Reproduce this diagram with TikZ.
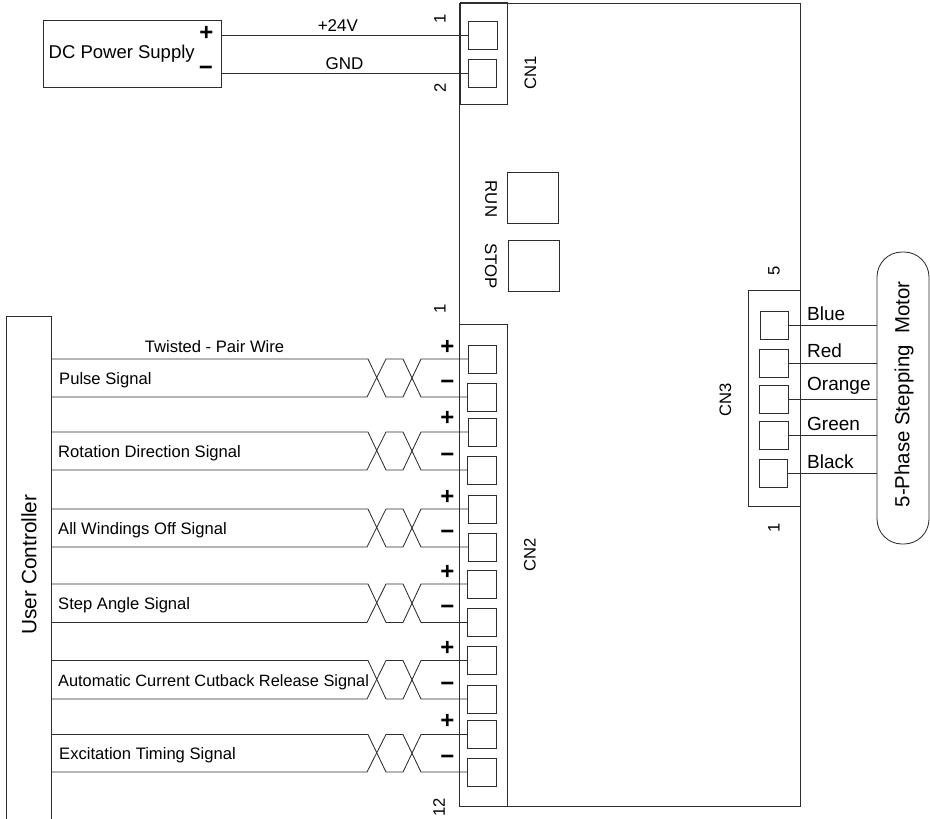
\documentclass[tikz,border=0pt]{standalone}
\usepackage{fontspec}
\setmainfont{Liberation Sans}
\usepackage{xcolor}
\definecolor{wirecol}{RGB}{45,45,45}
\tikzset{
    box/.style={draw=wirecol, line width=0.85pt, inner sep=0pt, outer sep=0pt},
    pin/.style={box, minimum width=28.5pt, minimum height=28pt},
    wire/.style={draw=wirecol, line width=0.85pt},
    sig/.style={inner sep=0pt, anchor=west, yshift=-1pt, font=\fontsize{16.6}{18}\selectfont},
    wirename/.style={inner sep=0pt, font=\fontsize{17}{19}\selectfont},
    colname/.style={inner sep=0pt, anchor=west, font=\fontsize{19}{21}\selectfont},
    upname/.style={inner sep=0pt, rotate=90, font=\fontsize{16.6}{18}\selectfont},
    downname/.style={inner sep=0pt, rotate=-90, font=\fontsize{16.8}{18}\selectfont},
    polar/.style={inner sep=0pt, font=\fontsize{24}{26}\selectfont\bfseries}
}

\begin{document}
\begin{tikzpicture}[x=1pt,y=-1pt]
    \clip (0,0) rectangle (930,819);

    %Driver board
    \node[box, minimum width=340.5pt, minimum height=803pt] (board) at (630,404.5) {};
    \node[box, minimum width=51pt, minimum height=51pt] (run) at (532.5,197.5) {};
    \node[box, minimum width=51pt, minimum height=51pt] (stop) at (533.5,266) {};
    \node[downname] (runtxt) at (491,199) {RUN};
    \node[downname] (stoptxt) at (491,266) {STOP};

    % ------------------

    %CN1: power input
    \node[box, minimum width=47pt, minimum height=101.5pt] (cn1) at (483.5,53.5) {};
    \node[pin] (pa) at (483,35) {};
    \node[pin] (pb) at (482.5,73) {};
    \node[upname] (cn1txt) at (530.5,73) {CN1};
    \node[upname] (cn1a) at (440,19) {1};
    \node[upname] (cn1b) at (440,87.5) {2};

    \node[box, minimum width=178pt, minimum height=67pt] (dc) at (132,54) {};
    \node[inner sep=0pt, anchor=west, font=\fontsize{18.5}{20}\selectfont] (dctxt) at (48.5,54) {DC Power Supply};
    \node[polar] (dcplus) at (206.5,33) {+};
    \node[polar] (dcminus) at (206,71) {−};

    \draw[wire] (dc.east |- pa.west) -- node[wirename, above=3pt, xshift=-7pt] (v24) {+24V} (pa.west);
    \draw[wire] (dc.east |- pb.west) -- node[wirename, above=3pt] (gnd) {GND} (pb.west);

    % ------------------

    %CN2: signal input
    \node[box, minimum width=48.5pt, minimum height=482pt] (cn2) at (483.5,565) {};
    \node[upname] (cn2txt) at (530,555) {CN2};
    \node[upname] (cn2a) at (440,309) {1};
    \node[upname] (cn2b) at (439,807) {12};

    \node[pin] (p1) at (482.5,359) {};
    \node[pin] (p2) at (482,397) {};
    \node[pin] (p3) at (482.5,432) {};
    \node[pin] (p4) at (482,470) {};
    \node[pin] (p5) at (482.5,509) {};
    \node[pin] (p6) at (482.5,547) {};
    \node[pin] (p7) at (482,584) {};
    \node[pin] (p8) at (482,622.5) {};
    \node[pin] (p9) at (482,660.5) {};
    \node[pin] (p10) at (482,699) {};
    \node[pin] (p11) at (482,734.5) {};
    \node[pin] (p12) at (482,772) {};

    \node[polar] (p1s) at (447.5,347) {+};
    \node[polar] (p2s) at (447.5,385) {−};
    \node[polar] (p3s) at (447.5,418.5) {+};
    \node[polar] (p4s) at (447.5,457.5) {−};
    \node[polar] (p5s) at (447.5,497) {+};
    \node[polar] (p6s) at (447.5,535) {−};
    \node[polar] (p7s) at (447.5,572) {+};
    \node[polar] (p8s) at (447.5,610) {−};
    \node[polar] (p9s) at (447.5,648.5) {+};
    \node[polar] (p10s) at (447.5,686.5) {−};
    \node[polar] (p11s) at (447.5,721.5) {+};
    \node[polar] (p12s) at (447.5,759.5) {−};

    % ------------------

    %User side
    \node[box, minimum width=45pt, minimum height=520pt] (uc) at (28.5,576) {};
    \node[inner sep=0pt, rotate=90, font=\fontsize{20.8}{22}\selectfont] (uctxt) at (29,564.5) {User Controller};

    \node[inner sep=0pt, font=\fontsize{16.6}{18}\selectfont] (twist) at (214.5,346.5) {Twisted - Pair Wire};
    \node[sig] (s1) at (59,379) {Pulse Signal};
    \node[sig] (s2) at (58,452) {Rotation Direction Signal};
    \node[sig] (s3) at (58,529) {All Windings Off Signal};
    \node[sig] (s4) at (58,604) {Step Angle Signal};
    \node[sig, font=\fontsize{16.35}{18}\selectfont] (s5) at (58,681) {Automatic Current Cutback Release Signal};
    \node[sig] (s6) at (59,754) {Excitation Timing Signal};

    % twisted pairs
    \draw[wire] (uc.east |- p1.west) -- (368,0 |- p1.west) -- (386,0 |- p2.west) -- (403,0 |- p2.west) -- (421,0 |- p1.west) -- (p1.west);
    \draw[wire] (uc.east |- p2.west) -- (367,0 |- p2.west) -- (386,0 |- p1.west) -- (403,0 |- p1.west) -- (421,0 |- p2.west) -- (p2.west);
    \draw[wire] (uc.east |- p3.west) -- (368,0 |- p3.west) -- (386,0 |- p4.west) -- (403,0 |- p4.west) -- (421,0 |- p3.west) -- (p3.west);
    \draw[wire] (uc.east |- p4.west) -- (367,0 |- p4.west) -- (386,0 |- p3.west) -- (403,0 |- p3.west) -- (421,0 |- p4.west) -- (p4.west);
    \draw[wire] (uc.east |- p5.west) -- (368,0 |- p5.west) -- (386,0 |- p6.west) -- (403,0 |- p6.west) -- (421,0 |- p5.west) -- (p5.west);
    \draw[wire] (uc.east |- p6.west) -- (367,0 |- p6.west) -- (386,0 |- p5.west) -- (403,0 |- p5.west) -- (421,0 |- p6.west) -- (p6.west);
    \draw[wire] (uc.east |- p7.west) -- (368,0 |- p7.west) -- (386,0 |- p8.west) -- (403,0 |- p8.west) -- (421,0 |- p7.west) -- (p7.west);
    \draw[wire] (uc.east |- p8.west) -- (367,0 |- p8.west) -- (386,0 |- p7.west) -- (403,0 |- p7.west) -- (421,0 |- p8.west) -- (p8.west);
    \draw[wire] (uc.east |- p9.west) -- (368,0 |- p9.west) -- (386,0 |- p10.west) -- (403,0 |- p10.west) -- (421,0 |- p9.west) -- (p9.west);
    \draw[wire] (uc.east |- p10.west) -- (367,0 |- p10.west) -- (386,0 |- p9.west) -- (403,0 |- p9.west) -- (421,0 |- p10.west) -- (p10.west);
    \draw[wire] (uc.east |- p11.west) -- (368,0 |- p11.west) -- (386,0 |- p12.west) -- (403,0 |- p12.west) -- (421,0 |- p11.west) -- (p11.west);
    \draw[wire] (uc.east |- p12.west) -- (367,0 |- p12.west) -- (386,0 |- p11.west) -- (403,0 |- p11.west) -- (421,0 |- p12.west) -- (p12.west);

    % ------------------

    %CN3: motor output
    \node[box, minimum width=51.5pt, minimum height=216.5pt] (cn3) at (774.5,398.5) {};
    \node[upname] (cn3txt) at (725.5,400) {CN3};
    \node[upname] (cn3a) at (774,271) {5};
    \node[upname] (cn3b) at (774,528) {1};

    \node[pin] (q1) at (774.5,325.5) {};
    \node[pin] (q2) at (774,363) {};
    \node[pin] (q3) at (774,399.5) {};
    \node[pin] (q4) at (774,435.5) {};
    \node[pin] (q5) at (773.5,473.5) {};

    \node[box, rounded corners=25pt, minimum width=52pt, minimum height=292pt] (motor) at (903,398) {};
    \node[inner sep=0pt, rotate=90, font=\fontsize{20.4}{22}\selectfont] (motortxt) at (904,394.5) {5-Phase Stepping\ \ Motor};

    \node[colname] (c1) at (807,314) {Blue};
    \node[colname] (c2) at (807,351) {Red};
    \node[colname] (c3) at (807,386) {Orange};
    \node[colname] (c4) at (807,424) {Green};
    \node[colname] (c5) at (807,461.5) {Black};

    \draw[wire] (q1.east) -- (motor.west |- q1.east);
    \draw[wire] (q2.east) -- (motor.west |- q2.east);
    \draw[wire] (q3.east) -- (motor.west |- q3.east);
    \draw[wire] (q4.east) -- (motor.west |- q4.east);
    \draw[wire] (q5.east) -- (motor.west |- q5.east);
\end{tikzpicture}
\end{document}
